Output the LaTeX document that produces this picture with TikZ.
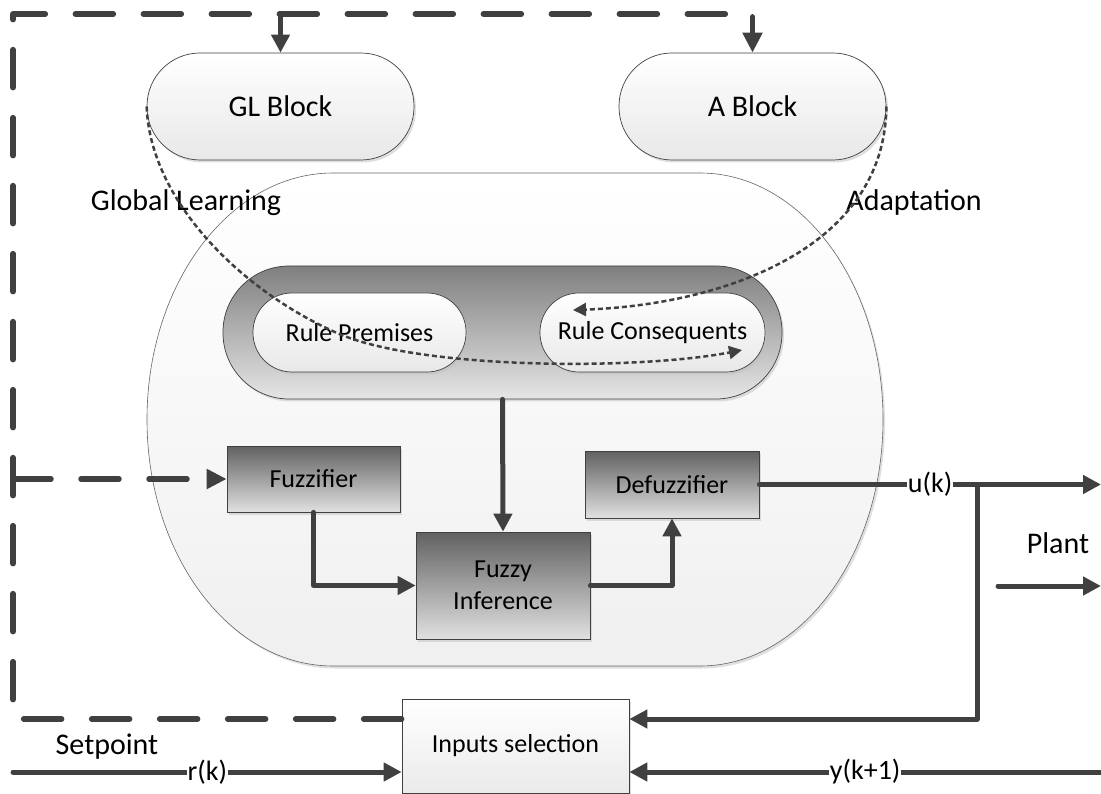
\documentclass[tikz,border=0pt]{standalone}
\usepackage{fontspec}
\setmainfont{Carlito}
\usetikzlibrary{arrows.meta,shadows}
\definecolor{ln}{HTML}{404040}
\tikzset{
  every node/.style={font=\fontsize{26}{32}\selectfont, text=black},
  lbl/.style={font=\fontsize{30}{34}\selectfont, inner sep=1pt},
  onlbl/.style={font=\fontsize{28}{32}\selectfont, fill=white, inner sep=0.5pt},
  shad/.style={drop shadow={shadow xshift=2pt, shadow yshift=-2.5pt, fill=black!25, opacity=0.5}},
  softbox/.style={draw=ln, line width=0.7pt, top color=white, bottom color=black!9, shad, align=center},
  dkbox/.style={draw=ln, line width=0.7pt, top color=black!62, bottom color=black!12, shad, align=center},
  plainbox/.style={draw=ln, line width=0.7pt, top color=white, bottom color=black!8, shad, align=center},
  bandbox/.style={draw=ln, line width=0.7pt, top color=black!50, bottom color=black!10, shad},
  thk/.style={draw=ln, line width=5pt, line cap=round, line join=round, -{Triangle[length=18pt, width=18pt]}},
  dsh/.style={draw=ln, line width=5.5pt, line cap=round, line join=round, dash pattern=on 38pt off 30pt},
  dshar/.style={dsh, -{Triangle[length=20pt, width=19pt]}},
  dot/.style={draw=ln, line width=2.5pt, dash pattern=on 5pt off 3pt, -{Triangle[length=13pt, width=13pt]}}
}
\begin{document}
\begin{tikzpicture}[x=1pt, y=-1pt]
\useasboundingbox (0,0) rectangle (1101,794);
% large rounded container
\path[draw=ln!80, line width=0.6pt, top color=white, bottom color=black!6, shad]
  (333,173) -- (700,173)
  .. controls (801.1,173) and (883,283.4) .. (883,419.5)
  .. controls (883,555.6) and (801.1,666) .. (700,666)
  -- (333,666)
  .. controls (230.3,666) and (147,555.6) .. (147,419.5)
  .. controls (147,283.4) and (230.3,173) .. (333,173) -- cycle;

% blocks
\node[softbox, rounded corners=53pt, minimum width=267pt, minimum height=107pt, font=\fontsize{30}{34}\selectfont] (gl) at (280.5,106.5) {GL Block};
\node[softbox, rounded corners=53pt, minimum width=267pt, minimum height=107pt, font=\fontsize{30}{34}\selectfont] (ab) at (752.5,106.5) {A Block};
\node[bandbox, rounded corners=66pt, minimum width=559pt, minimum height=133pt] (band) at (502.5,332.5) {};
\node[softbox, rounded corners=39pt, minimum width=213pt, minimum height=79pt] (rp) at (359.5,332.5) {Rule Premises};
\node[softbox, rounded corners=39pt, minimum width=225pt, minimum height=79pt] (rc) at (652.5,332.5) {Rule Consequents};
\node[dkbox, minimum width=173pt, minimum height=66pt] (fz) at (313.5,479) {Fuzzifier};
\node[dkbox, minimum width=174pt, minimum height=107pt] (fi) at (503,585.5) {Fuzzy\\Inference};
\node[dkbox, minimum width=174pt, minimum height=67pt] (df) at (672,484.5) {Defuzzifier};
\node[plainbox, minimum width=227pt, minimum height=94pt] (inp) at (515.5,746) {Inputs selection};

% free labels
\node[lbl] (glt) at (186,203) {Global Learning};
\node[lbl] (adt) at (914,203) {Adaptation};
\node[lbl] (sp) at (107,747) {Setpoint};
\node[lbl] (pl) at (1058,543) {Plant};

% coordinates
\coordinate (d0) at (13,719);
\coordinate (d1) at (13,14);
\coordinate (d2) at (752.5,14);
\coordinate (d3) at (280.5,14);
\coordinate (d4) at (13,479);
\coordinate (j) at (977,484.5);
\coordinate (jb) at (977,719);
\coordinate (uend) at (1101,484.5);
\coordinate (rs) at (13,772);
\coordinate (ys) at (1101,772);
\coordinate (ps) at (998,586);
\coordinate (pe) at (1101,586);

% dotted learning / adaptation paths
\draw[dot] (gl.west) .. controls (150,200) and (240,290) .. (337,333)
  .. controls (420,370) and (640,370) .. (742,350);
\draw[dot] (ab.east) .. controls (885,250) and (720,305) .. (573,310);

% dashed loop
\draw[dshar] (inp.west |- d0) -- (d0) -- (d1) -- (d2) -- (ab.north);
\draw[dshar] (d4) -- (fz.west);
\draw[thk] (d3) -- (gl.north);

% solid connectors
\draw[thk] (band.south) -- (fi.north);
\draw[thk] (fz.south) |- (fi.west);
\draw[thk] (fi.east) -| (df.south);
\draw[thk] (df.east) -- (uend) node[onlbl, pos=0.5] (uk) {u(k)};
\draw[thk] (j) -- (jb) -- (jb -| inp.east);
\draw[thk] (rs) -- (rs -| inp.west) node[onlbl, pos=0.5] (rk) {r(k)};
\draw[thk] (ys) -- (ys -| inp.east) node[onlbl, pos=0.5] (yk) {y(k+1)};
\draw[thk] (ps) -- (pe);
\end{tikzpicture}
\end{document}
